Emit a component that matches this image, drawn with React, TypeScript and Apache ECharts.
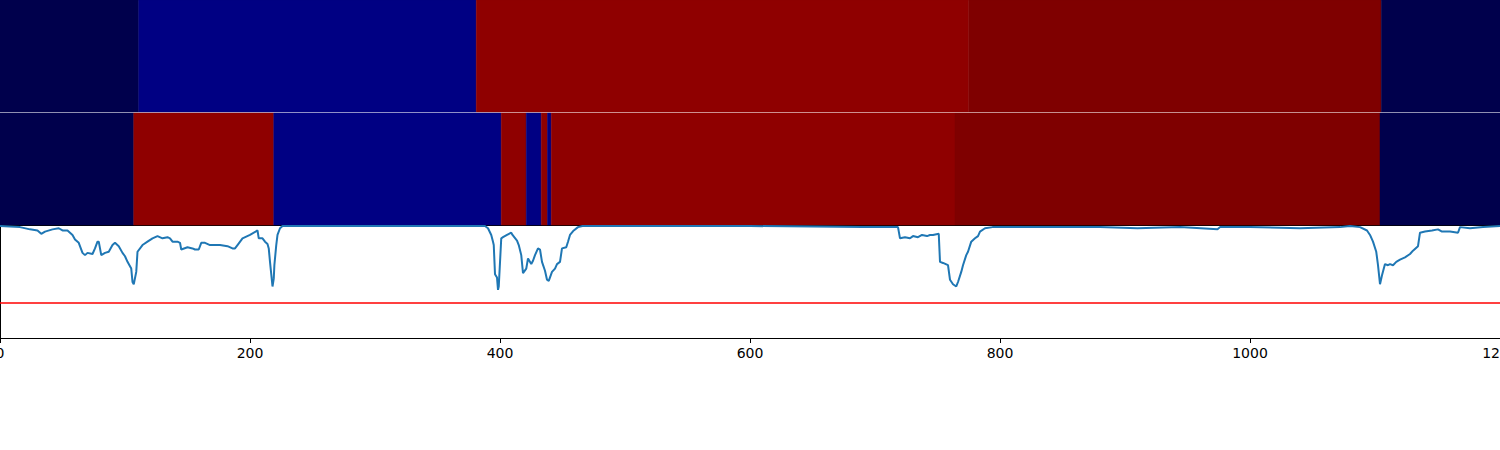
import React, { useEffect, useRef } from "react";
import * as echarts from "echarts";

// State colours (0: dark navy, 1: blue, 2: red, 3: dark red)
const stateColors = ["#00004c", "#000083", "#8f0000", "#7f0000"];

// [start, end, state]
const topSegments: number[][] = [
  [0, 111, 0],
  [111, 381, 1],
  [381, 775, 2],
  [775, 1105, 3],
  [1105, 1200, 0],
];

const midSegments: number[][] = [
  [0, 107, 0],
  [107, 219, 2],
  [219, 401, 1],
  [401, 421, 2],
  [421, 433, 1],
  [433, 438, 2],
  [438, 441, 1],
  [441, 764, 2],
  [764, 1104, 3],
  [1104, 1200, 0],
];

const signalX: number[] = [
  0, 16, 24, 30, 33, 36, 42, 47, 50, 54, 58, 60, 63, 66, 68, 70, 74, 76, 78, 79, 81, 84, 87, 90, 92, 95, 98, 100,
  102, 105, 106, 107, 109, 110, 114, 118, 122, 126, 130, 134, 136, 138, 142, 144, 145, 150, 154, 156, 159, 161,
  164, 168, 176, 182, 186, 188, 190, 194, 200, 206, 207, 210, 212, 214, 215, 216, 218, 219, 219.5, 221, 222, 224,
  226, 250, 300, 350, 388, 390.4, 393, 394.4, 395, 396, 397.6, 398.4, 399, 401, 402.4, 405.6, 409, 410, 413.6,
  415, 417, 418.4, 421, 422.4, 425, 426.4, 428, 430.4, 432, 433.6, 436, 437.6, 439, 441.6, 444, 445.6, 448, 449.6,
  453, 454.4, 456, 459, 462.4, 466, 500, 600, 650, 690, 718.4, 720, 724, 728, 730.4, 734.4, 737.6, 741.6, 744,
  746.4, 751, 752, 754.4, 758.4, 760, 762.4, 765, 766.4, 769, 770.4, 773, 774.4, 777, 780, 782.4, 784, 788, 794,
  824, 860, 880, 910, 944, 974, 976, 1000, 1040, 1072, 1080, 1088, 1093.6, 1096, 1098.4, 1101, 1102.4, 1104,
  1105.6, 1108, 1110.4, 1112, 1114.4, 1117, 1120, 1124, 1128, 1130.4, 1134.4, 1136, 1140, 1145.6, 1150.4, 1153.6,
  1160, 1166.4, 1168, 1176, 1186.4, 1200,
];

const signalY: number[] = [
  1.0, 0.99, 0.97, 0.96, 0.93, 0.95, 0.97, 0.98, 0.96, 0.96, 0.92, 0.88, 0.85, 0.76, 0.74, 0.76, 0.75, 0.8, 0.86,
  0.86, 0.74, 0.76, 0.77, 0.83, 0.85, 0.82, 0.76, 0.73, 0.68, 0.62, 0.5, 0.48, 0.59, 0.77, 0.83, 0.86, 0.89, 0.91,
  0.89, 0.9, 0.89, 0.86, 0.86, 0.85, 0.79, 0.81, 0.8, 0.79, 0.79, 0.85, 0.85, 0.83, 0.83, 0.82, 0.8, 0.8, 0.83,
  0.89, 0.92, 0.96, 0.89, 0.89, 0.86, 0.84, 0.8, 0.68, 0.46, 0.53, 0.65, 0.83, 0.92, 0.98, 1.0, 1.0, 1.0, 1.0,
  1.0, 0.98, 0.92, 0.86, 0.83, 0.57, 0.54, 0.43, 0.46, 0.89, 0.9, 0.92, 0.94, 0.92, 0.87, 0.83, 0.74, 0.58, 0.62,
  0.71, 0.66, 0.69, 0.74, 0.8, 0.79, 0.68, 0.6, 0.52, 0.51, 0.59, 0.62, 0.66, 0.68, 0.8, 0.81, 0.86, 0.92, 0.96,
  0.99, 1.0, 1.0, 1.0, 0.995, 0.99, 0.99, 0.89, 0.9, 0.89, 0.91, 0.9, 0.92, 0.91, 0.92, 0.92, 0.93, 0.68, 0.67,
  0.65, 0.52, 0.48, 0.46, 0.5, 0.59, 0.65, 0.74, 0.77, 0.86, 0.89, 0.91, 0.95, 0.98, 0.99, 0.99, 0.99, 0.99, 0.98,
  0.99, 0.97, 0.99, 0.99, 0.98, 0.99, 1.0, 0.99, 0.96, 0.92, 0.86, 0.77, 0.65, 0.48, 0.56, 0.66, 0.65, 0.66, 0.65,
  0.68, 0.7, 0.72, 0.75, 0.78, 0.82, 0.94, 0.95, 0.96, 0.97, 0.95, 0.95, 0.94, 0.99, 0.98, 0.99, 1.0,
];

const threshold = 0.3125;
const xTicks = [0, 200, 400, 600, 800, 1000, 1200];

export default function App() {
  const ref = useRef<HTMLDivElement>(null);

  useEffect(() => {
    if (!ref.current) return;
    const chart = echarts.init(ref.current, undefined, { renderer: "svg" });

    const renderBand = (params: any, api: any) => {
      const s = api.coord([api.value(0), 1]);
      const e = api.coord([api.value(1), 0]);
      const c = stateColors[api.value(2)];
      return {
        type: "rect",
        shape: { x: s[0], y: s[1], width: e[0] - s[0], height: e[1] - s[1] },
        style: { fill: c, stroke: c, lineWidth: 0.5 },
      };
    };

    const hiddenX = (idx: number, showLine: boolean) => ({
      type: "value",
      gridIndex: idx,
      min: xTicks[0],
      max: xTicks[xTicks.length - 1],
      interval: 200,
      axisLine: { show: showLine, lineStyle: { color: "#000", width: 1 } },
      axisTick: { show: false },
      axisLabel: { show: false },
      splitLine: { show: false },
    });
    const hiddenY = (idx: number, showLine: boolean) => ({
      type: "value",
      gridIndex: idx,
      min: 0,
      max: 1,
      axisLine: { show: showLine, onZero: false, lineStyle: { color: "#000", width: 1 } },
      axisTick: { show: false },
      axisLabel: { show: false },
      splitLine: { show: false },
    });

    const gridBase = { left: 0, width: 1500, height: 112, containLabel: false, outerBoundsMode: "none" };

    chart.setOption({
      animation: false,
      backgroundColor: "#ffffff",
      grid: [
        { ...gridBase, top: 0 },
        { ...gridBase, top: 113 },
        { ...gridBase, top: 226 },
      ],
      xAxis: [
        hiddenX(0, false),
        hiddenX(1, true),
        {
          type: "value",
          gridIndex: 2,
          min: xTicks[0],
          max: xTicks[xTicks.length - 1],
          interval: 200,
          axisLine: { show: true, onZero: false, lineStyle: { color: "#000", width: 1 } },
          axisTick: { show: true, length: 5, lineStyle: { color: "#000", width: 1 } },
          axisLabel: {
            show: true,
            margin: 8,
            color: "#000",
            fontFamily: "DejaVu Sans",
            fontSize: 14,
            showMinLabel: true,
            showMaxLabel: true,
            formatter: (v: number) => String(v),
          },
          splitLine: { show: false },
        },
      ],
      yAxis: [hiddenY(0, false), hiddenY(1, false), hiddenY(2, true)],
      series: [
        {
          type: "custom",
          xAxisIndex: 0,
          yAxisIndex: 0,
          renderItem: renderBand,
          data: topSegments,
          silent: true,
        },
        {
          type: "custom",
          xAxisIndex: 1,
          yAxisIndex: 1,
          renderItem: renderBand,
          data: midSegments,
          silent: true,
        },
        {
          type: "line",
          xAxisIndex: 2,
          yAxisIndex: 2,
          data: signalX.map((x, i) => [x, signalY[i]]),
          symbol: "none",
          lineStyle: { color: "#1f77b4", width: 2 },
          silent: true,
        },
        {
          type: "line",
          xAxisIndex: 2,
          yAxisIndex: 2,
          data: [
            [xTicks[0], threshold],
            [xTicks[xTicks.length - 1], threshold],
          ],
          symbol: "none",
          lineStyle: { color: "#ff0000", width: 1.5 },
          silent: true,
        },
      ],
    });

    return () => chart.dispose();
  }, []);

  return (
    <div
      ref={ref}
      style={{ position: "fixed", left: 0, top: 0, width: 1500, height: 450 }}
    />
  );
}
